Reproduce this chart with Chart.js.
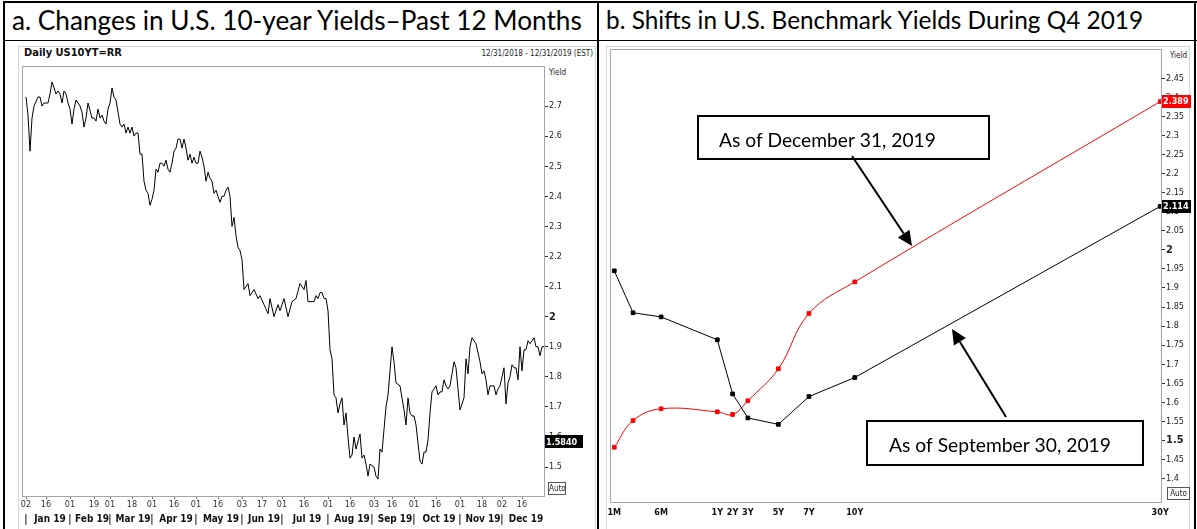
<!DOCTYPE html>
<html>
<head>
<meta charset="utf-8">
<script src="https://cdn.jsdelivr.net/npm/chart.js@4.4.1/dist/chart.umd.min.js"></script>
<style>
  html, body { margin: 0; padding: 0; background: #fff; }
  body { width: 1197px; height: 529px; position: relative; overflow: hidden; }
  .rule { position: absolute; background: #000; }
  .title { position: absolute; top: 5px; font-family: Lato, 'Open Sans', sans-serif; font-size: 25px; color: #000; white-space: nowrap; line-height: 30px; }
  .small { position: absolute; font-family: 'Liberation Sans Narrow', 'Arial Narrow', 'DejaVu Sans Condensed', 'Liberation Sans', sans-serif; color: #222; white-space: nowrap; line-height: 1; }
  .frame { position: absolute; border: 1px solid #d6d6d6; box-sizing: border-box; }
  .auto { position: absolute; border: 1px solid #555; box-sizing: border-box; font-size: 8px; text-align: center; line-height: 11px; }
  canvas { position: absolute; }
</style>
</head>
<body>
<div class="rule" style="left:3px;top:1px;width:1194px;height:2px"></div>
<div class="rule" style="left:3px;top:1px;width:2px;height:528px"></div>
<div class="rule" style="left:597px;top:1px;width:2px;height:528px"></div>
<div class="rule" style="left:1194px;top:1px;width:2px;height:528px"></div>
<div class="rule" style="left:3px;top:40px;width:1194px;height:1px"></div>

<div class="title" id="titleA" style="left:12px">a. Changes in U.S. 10-year Yields–Past 12 Months</div>
<div class="title" id="titleB" style="left:606px">b. Shifts in U.S. Benchmark Yields During Q4 2019</div>

<div class="frame" style="left:18px;top:46px;width:578px;height:490px"></div>
<div class="frame" style="left:606px;top:46px;width:584px;height:490px"></div>

<div class="small" style="left:24px;top:47px;font-size:11px;font-weight:bold;color:#111">Daily US10YT=RR</div>
<div class="small" style="right:604px;top:50px;font-size:8px">12/31/2018 - 12/31/2019 (EST)</div>
<div class="small" style="left:549px;top:69px;font-size:8px">Yield</div>
<div class="small" style="left:1170px;top:52px;font-size:8px">Yield</div>

<canvas id="yieldChart" width="592" height="486" style="left:6px;top:42px"></canvas>
<canvas id="curveChart" width="595" height="486" style="left:600px;top:42px"></canvas>

<div class="small auto" style="left:548px;top:482px;width:18px;height:13px">Auto</div>
<div class="small auto" style="left:1167px;top:487px;width:23px;height:13px">Auto</div>

<script>
// ---------- panel a: daily US 10-year yield (x = weekday number counted from 1 Jan 2019) ----------
const day = [
  1, 2, 3, 4, 5, 7, 8, 9, 10, 12, 13, 14, 16, 17, 18, 19, 20, 21, 22, 23,
  24, 25, 26, 27, 28, 29, 30, 31, 32, 34, 35, 36, 37, 38, 39, 40, 41, 42, 43, 44,
  45, 46, 47, 48, 49, 50, 51, 52, 53, 54, 55, 56, 57, 58, 59, 60, 61, 62, 63, 64,
  65, 66, 67, 68, 69, 70, 71, 72, 73, 74, 75, 76, 77, 78, 79, 80, 81, 82, 83, 84,
  85, 86, 87, 88, 89, 90, 91, 92, 93, 94, 95, 96, 97, 98, 99, 100, 101, 102, 103, 104,
  105, 106, 107, 108, 109, 110, 112, 113, 115, 117, 118, 120, 122, 123, 125, 127, 128, 130, 132, 134,
  136, 138, 140, 141, 142, 144, 145, 146, 147, 148, 149, 150, 151, 152, 153, 154, 155, 156, 157, 158,
  159, 160, 161, 162, 163, 164, 165, 166, 168, 169, 170, 171, 172, 173, 175, 176, 177, 178, 179, 181,
  182, 184, 185, 186, 188, 189, 190, 191, 192, 193, 194, 195, 196, 197, 198, 199, 200, 201, 202, 203,
  204, 206, 207, 208, 209, 210, 211, 212, 213, 215, 216, 217, 218, 220, 221, 222, 223, 224, 226, 228,
  229, 230, 231, 232, 233, 235, 236, 237, 238, 240, 241, 242, 243, 244, 245, 246, 247, 248, 249, 250,
  251, 252, 253, 255, 256, 257, 258, 259, 260
];
const yield10y = [
  2.73, 2.67, 2.55, 2.66, 2.70, 2.73, 2.73, 2.70, 2.71, 2.71, 2.74, 2.78, 2.74, 2.75, 2.74, 2.71, 2.75, 2.74, 2.71, 2.69,
  2.64, 2.69, 2.72, 2.71, 2.70, 2.68, 2.63, 2.66, 2.71, 2.66, 2.66, 2.65, 2.69, 2.66, 2.67, 2.65, 2.64, 2.69, 2.71, 2.76,
  2.73, 2.72, 2.68, 2.64, 2.63, 2.64, 2.61, 2.63, 2.61, 2.63, 2.60, 2.61, 2.61, 2.54, 2.54, 2.45, 2.42, 2.41, 2.37, 2.39,
  2.42, 2.49, 2.48, 2.51, 2.51, 2.50, 2.52, 2.49, 2.48, 2.51, 2.55, 2.56, 2.59, 2.59, 2.56, 2.59, 2.56, 2.52, 2.54, 2.51,
  2.53, 2.51, 2.51, 2.55, 2.53, 2.50, 2.45, 2.48, 2.46, 2.45, 2.41, 2.42, 2.40, 2.38, 2.40, 2.40, 2.42, 2.43, 2.40, 2.30,
  2.33, 2.27, 2.23, 2.22, 2.19, 2.09, 2.11, 2.07, 2.09, 2.06, 2.07, 2.04, 2.01, 2.06, 2.00, 2.04, 2.02, 2.06, 2.00, 2.05,
  2.06, 2.11, 2.09, 2.12, 2.05, 2.05, 2.05, 2.07, 2.06, 2.08, 2.08, 2.06, 2.06, 2.02, 1.89, 1.86, 1.74, 1.73, 1.68, 1.71,
  1.73, 1.64, 1.68, 1.60, 1.53, 1.54, 1.60, 1.56, 1.61, 1.53, 1.54, 1.51, 1.47, 1.51, 1.50, 1.47, 1.46, 1.56, 1.55, 1.70,
  1.74, 1.90, 1.85, 1.78, 1.77, 1.73, 1.69, 1.64, 1.73, 1.68, 1.67, 1.67, 1.64, 1.58, 1.52, 1.51, 1.55, 1.55, 1.59, 1.68,
  1.75, 1.77, 1.74, 1.75, 1.75, 1.79, 1.77, 1.76, 1.77, 1.85, 1.83, 1.76, 1.69, 1.73, 1.86, 1.81, 1.90, 1.93, 1.91, 1.85,
  1.81, 1.82, 1.79, 1.74, 1.77, 1.77, 1.74, 1.76, 1.77, 1.83, 1.71, 1.78, 1.80, 1.84, 1.83, 1.83, 1.79, 1.90, 1.82, 1.89,
  1.89, 1.92, 1.91, 1.93, 1.90, 1.90, 1.87, 1.90, 1.90
];
const tickDays   = [1, 11, 23, 35, 43, 54, 64, 75, 86, 97, 109, 119, 129, 140, 152, 163, 175, 184, 195, 206, 218, 229, 239, 249];
const tickLabels = ['02', '16', '01', '19', '01', '18', '01', '16', '01', '16', '03', '17', '01', '16', '01', '16', '03', '16', '01', '16', '01', '18', '02', '16'];
const monthStarts = [1, 23, 43, 64, 86, 109, 129, 152, 174, 195, 218, 239, 261];
const monthNames  = ['Jan 19', 'Feb 19', 'Mar 19', 'Apr 19', 'May 19', 'Jun 19', 'Jul 19', 'Aug 19', 'Sep 19', 'Oct 19', 'Nov 19', 'Dec 19'];
const yTicks = [1.5, 1.6, 1.7, 1.8, 1.9, 2, 2.1, 2.2, 2.3, 2.4, 2.5, 2.6, 2.7];
const flagValue = 1.584;

// ---------- panel b: Treasury curve on two dates ----------
const tenorYears  = [1 / 12, 0.25, 0.5, 1, 2, 3, 5, 7, 10, 30];
const tenorLabels = ['1M', '3M', '6M', '1Y', '2Y', '3Y', '5Y', '7Y', '10Y', '30Y'];
const shownTenors = ['1M', '6M', '1Y', '2Y', '3Y', '5Y', '7Y', '10Y', '30Y'];
const sep30 = [1.945, 1.835, 1.824, 1.764, 1.622, 1.559, 1.542, 1.615, 1.665, 2.114];
const dec31 = [1.482, 1.552, 1.583, 1.575, 1.568, 1.604, 1.688, 1.833, 1.916, 2.389];
const curveTicks = [1.4, 1.45, 1.5, 1.55, 1.6, 1.65, 1.7, 1.75, 1.8, 1.85, 1.9, 1.95, 2, 2.05, 2.1, 2.15, 2.2, 2.25, 2.3, 2.35, 2.4, 2.45];

const narrow = "'Liberation Sans Narrow', 'Arial Narrow', 'DejaVu Sans Condensed', 'Liberation Sans', sans-serif";
const calibri = "Lato, 'Open Sans', sans-serif";

// the curve's maturity axis is stretched below one year
const shortStretch = 7.36;
const warp = t => (t <= 1 ? t * shortStretch : shortStretch + (t - 1));

function fitWidth(el, target) {
  const w = el.getBoundingClientRect().width;
  const fs = parseFloat(getComputedStyle(el).fontSize);
  el.style.fontSize = (fs * target / w).toFixed(2) + 'px';
}
fitWidth(document.getElementById('titleA'), 570);
fitWidth(document.getElementById('titleB'), 537);

const plotBox = {
  id: 'plotBox',
  afterDraw(chart, args, opts) {
    const { ctx, chartArea: a } = chart;
    ctx.save();
    ctx.strokeStyle = '#a3a3bd';
    ctx.lineWidth = 1;
    ctx.strokeRect(Math.round(a.left) + 0.5, Math.round(a.top) + 0.5, Math.round(a.right - a.left), Math.round(a.bottom - a.top));
    (opts.flags || []).forEach(f => {
      const y = chart.scales.y.getPixelForValue(f.value);
      const x = chart.scales.y.left + 1;
      ctx.fillStyle = f.color;
      ctx.fillRect(x, Math.round(y - 6.5), f.width, 13);
      ctx.fillStyle = '#fff';
      ctx.font = 'bold 9px ' + narrow;
      ctx.textBaseline = 'middle';
      ctx.textAlign = 'left';
      ctx.fillText(f.text, x + 1, y + 0.5);
    });
    ctx.restore();
  }
};

function arrow(ctx, x1, y1, x2, y2) {
  const ang = Math.atan2(y2 - y1, x2 - x1);
  const len = 15, half = 7;
  const bx = x2 - len * Math.cos(ang), by = y2 - len * Math.sin(ang);
  ctx.beginPath();
  ctx.moveTo(x1, y1);
  ctx.lineTo(bx, by);
  ctx.stroke();
  ctx.beginPath();
  ctx.moveTo(x2, y2);
  ctx.lineTo(bx + half * Math.sin(ang), by - half * Math.cos(ang));
  ctx.lineTo(bx - half * Math.sin(ang), by + half * Math.cos(ang));
  ctx.closePath();
  ctx.fill();
}

const callouts = {
  id: 'callouts',
  afterDraw(chart, args, opts) {
    const ctx = chart.ctx;
    ctx.save();
    opts.items.forEach(c => {
      ctx.fillStyle = '#fff';
      ctx.fillRect(c.box[0], c.box[1], c.box[2], c.box[3]);
      ctx.strokeStyle = '#000';
      ctx.lineWidth = 2;
      ctx.strokeRect(c.box[0], c.box[1], c.box[2], c.box[3]);
      ctx.font = '18px ' + calibri;
      const fs = 18 * c.textWidth / ctx.measureText(c.text).width;
      ctx.font = fs.toFixed(2) + 'px ' + calibri;
      ctx.fillStyle = '#000';
      ctx.textBaseline = 'alphabetic';
      ctx.fillText(c.text, c.textX, c.textY);
      ctx.lineWidth = 2;
      arrow(ctx, c.from[0], c.from[1], c.to[0], c.to[1]);
    });
    ctx.restore();
  }
};

const tickFont = ctx => (ctx.tick && (ctx.tick.value === 2 || (ctx.chart.canvas.id === 'curveChart' && ctx.tick.value === 1.5))
  ? { family: narrow, size: 11, weight: 'bold' }
  : { family: narrow, size: 9 });

// ---------- chart a ----------
const monthTicks = [];
monthNames.forEach((m, i) => {
  monthTicks.push({ value: monthStarts[i], label: '|' });
  monthTicks.push({ value: (monthStarts[i] + monthStarts[i + 1]) / 2 + 1, label: m });
});

new Chart(document.getElementById('yieldChart'), {
  type: 'line',
  data: {
    datasets: [{
      data: day.map((d, i) => ({ x: d, y: yield10y[i] })),
      borderColor: '#000',
      borderWidth: 1,
      pointRadius: 0,
      tension: 0
    }]
  },
  options: {
    responsive: false,
    animation: false,
    devicePixelRatio: 1,
    events: [],
    layout: { padding: { left: 16, top: 24, right: 0, bottom: 0 } },
    plugins: {
      legend: { display: false },
      tooltip: { enabled: false },
      plotBox: { flags: [{ value: flagValue, text: flagValue.toFixed(4), color: '#000', width: 38 }] }
    },
    scales: {
      x: {
        type: 'linear', min: -1, max: 260, bounds: 'data', position: 'bottom', weight: 0,
        grid: { drawOnChartArea: false, tickLength: 3, color: '#777' },
        border: { display: false },
        afterBuildTicks: s => { s.ticks = tickDays.map(v => ({ value: v })); },
        afterFit: s => { s.height = 16; s.paddingLeft = 0; s.paddingRight = 0; },
        ticks: { autoSkip: false, maxRotation: 0, padding: 0, color: '#333', font: { family: narrow, size: 9 }, callback: (v, i) => tickLabels[i] }
      },
      months: {
        type: 'linear', min: -1, max: 260, bounds: 'data', position: 'bottom', weight: 1,
        grid: { display: false, drawTicks: false },
        border: { display: false },
        afterBuildTicks: s => { s.ticks = monthTicks.map(t => ({ value: t.value })); },
        afterFit: s => { s.height = 16; s.paddingLeft = 0; s.paddingRight = 0; },
        ticks: { autoSkip: false, maxRotation: 0, padding: 1, color: '#111', font: { family: narrow, size: 10, weight: 'bold' }, callback: (v, i) => monthTicks[i].label }
      },
      y: {
        type: 'linear', position: 'right', min: 1.404, max: 2.833, bounds: 'data',
        grid: { drawOnChartArea: false, tickLength: 4, color: '#333' },
        border: { display: false },
        afterBuildTicks: s => { s.ticks = yTicks.map(v => ({ value: v })); },
        afterFit: s => { s.width = 54; s.paddingTop = 0; s.paddingBottom = 0; },
        ticks: { padding: 1, color: '#222', font: tickFont, callback: v => String(+v.toFixed(2)) }
      }
    }
  },
  plugins: [plotBox]
});

// ---------- chart b ----------
new Chart(document.getElementById('curveChart'), {
  type: 'line',
  data: {
    datasets: [
      {
        label: 'As of September 30, 2019',
        data: tenorYears.map((t, i) => ({ x: warp(t), y: sep30[i] })),
        borderColor: '#000', backgroundColor: '#000', borderWidth: 1,
        pointStyle: 'rect', pointRadius: 2.6, tension: 0, clip: 6
      },
      {
        label: 'As of December 31, 2019',
        data: tenorYears.map((t, i) => ({ x: warp(t), y: dec31[i] })),
        borderColor: '#ff0000', backgroundColor: '#ff0000', borderWidth: 1,
        pointStyle: 'rect', pointRadius: 2.6, tension: 0.4, clip: 6
      }
    ]
  },
  options: {
    responsive: false,
    animation: false,
    devicePixelRatio: 1,
    events: [],
    layout: { padding: { left: 10, top: 7, right: 0, bottom: 0 } },
    plugins: {
      legend: { display: false },
      tooltip: { enabled: false },
      plotBox: {
        flags: [
          { value: dec31[dec31.length - 1], text: dec31[dec31.length - 1].toFixed(3), color: '#ff0000', width: 29 },
          { value: sep30[sep30.length - 1], text: sep30[sep30.length - 1].toFixed(3), color: '#000', width: 29 }
        ]
      },
      callouts: {
        items: [
          { box: [98, 74, 291, 43], text: 'As of December 31, 2019', textX: 119, textY: 105, textWidth: 217, from: [252, 114], to: [312, 204] },
          { box: [267, 379, 276, 44], text: 'As of September 30, 2019', textX: 289, textY: 410, textWidth: 222, from: [406, 375], to: [352, 287] }
        ]
      }
    },
    scales: {
      x: {
        type: 'linear', min: 0.332, max: 36.414, bounds: 'data', position: 'bottom',
        grid: { display: false, drawTicks: false },
        border: { display: false },
        afterBuildTicks: s => { s.ticks = shownTenors.map(l => ({ value: warp(tenorYears[tenorLabels.indexOf(l)]) })); },
        afterFit: s => { s.height = 26; s.paddingLeft = 0; s.paddingRight = 0; },
        ticks: { autoSkip: false, maxRotation: 0, padding: 5, color: '#111', font: { family: narrow, size: 9, weight: 'bold' }, callback: (v, i) => shownTenors[i] }
      },
      y: {
        type: 'linear', position: 'right', min: 1.3384, max: 2.527, bounds: 'data',
        grid: { drawOnChartArea: false, tickLength: 4, color: '#333' },
        border: { display: false },
        afterBuildTicks: s => { s.ticks = curveTicks.map(v => ({ value: v })); },
        afterFit: s => { s.width = 34; s.paddingTop = 0; s.paddingBottom = 0; },
        ticks: { padding: 1, color: '#222', font: tickFont, callback: v => String(+v.toFixed(2)) }
      }
    }
  },
  plugins: [plotBox, callouts]
});
</script>
</body>
</html>
